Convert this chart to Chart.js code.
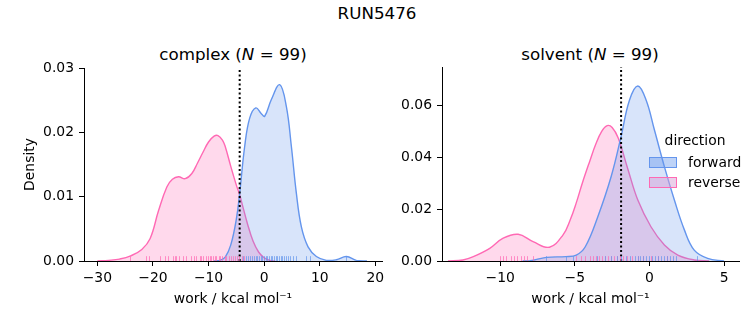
<!DOCTYPE html>
<html>
<head>
<meta charset="utf-8">
<script src="https://cdn.jsdelivr.net/npm/chart.js@4/dist/chart.umd.min.js"></script>
<style>
  body { margin: 0; background: #fff; font-family: "DejaVu Sans", sans-serif; }
  #wrap { position: relative; width: 753px; height: 325px; overflow: hidden; }
  canvas { position: absolute; top: 0; }
  .t { position: absolute; white-space: nowrap; line-height: 1; color: #000; }
  .c { transform: translateX(-50%); }
  .patch { position: absolute; box-sizing: border-box; width: 28px; height: 11px; }
</style>
</head>
<body>
<div id="wrap">
  <div class="t c" id="sup" style="left:377px; top:5px; font-size:16.7px"></div>
  <div class="t c" id="title1" style="left:233px; top:46px; font-size:16.7px"></div>
  <div class="t c" id="title2" style="left:590px; top:46px; font-size:16.7px"></div>
  <canvas id="c1" width="390" height="325" style="left:0"></canvas>
  <canvas id="c2" width="363" height="325" style="left:390px"></canvas>
  <!-- legend -->
  <div class="t c" id="legTitle" style="left:695px; top:134px; font-size:13.9px"></div>
  <div class="patch" id="patch0" style="left:649px; top:157px"></div>
  <div class="t" id="leg0" style="left:688px; top:155.5px; font-size:13.9px"></div>
  <div class="patch" id="patch1" style="left:649px; top:177px"></div>
  <div class="t" id="leg1" style="left:688px; top:176px; font-size:13.9px"></div>
</div>
<script>
// ---- data ----
const runName = "RUN5476";
const panelNames = ["complex", "solvent"];
const panelN = [99, 99];
const directions = ["forward", "reverse"];

// complex leg, KDE curves (x = work, y = density)
const complexForwardX = [-9, -8, -7, -6, -5, -4.4, -3.5, -2.6, -1.5, -0.5, 0.1, 1.3, 2.8, 4, 4.9, 5.8, 6.7, 7.9, 9.4, 11.2, 13, 14.8, 16.6, 18.5];
const complexForwardY = [0, 0.0001, 0.0006, 0.0025, 0.0065, 0.0105, 0.0178, 0.0222, 0.0238, 0.0229, 0.0225, 0.0251, 0.0274, 0.0240, 0.0178, 0.0105, 0.0053, 0.0022, 0.0007, 0.0001, 0.0002, 0.0007, 0.0001, 0];
const complexReverseX = [-30, -28, -26, -24, -22, -20.5, -19, -17.5, -16.5, -15.4, -14.2, -13, -12, -11, -10, -9, -8.3, -7.5, -7, -6, -5, -4.4, -4, -3, -2, -1, 0, 1, 2];
const complexReverseY = [0, 0.0001, 0.0003, 0.0008, 0.0018, 0.0035, 0.0078, 0.0115, 0.0127, 0.0131, 0.0128, 0.0136, 0.0152, 0.0169, 0.0185, 0.0194, 0.0195, 0.0188, 0.0178, 0.0147, 0.0118, 0.0103, 0.0090, 0.0058, 0.0031, 0.0014, 0.0005, 0.0001, 0];

// solvent leg
const solventForwardX = [-8.5, -8.0, -6.9, -5.6, -4.9, -4.3, -3.46, -2.57, -1.9, -1.34, -0.78, -0.22, 0.33, 1.0, 1.67, 2.34, 3.0, 3.9, 5.0];
const solventForwardY = [0, 0.0001, 0.0014, 0.0017, 0.0023, 0.0055, 0.0171, 0.0325, 0.0480, 0.0620, 0.0675, 0.0620, 0.0506, 0.0364, 0.0235, 0.0120, 0.0042, 0.0010, 0];
const solventReverseX = [-13.5, -12.5, -11.8, -10.7, -9.8, -8.8, -7.8, -6.7, -5.8, -5.3, -4.9, -4.5, -4.0, -3.6, -3.2, -2.83, -2.5, -2.1, -1.45, -0.78, 0.1, 1.0, 1.9, 3.0, 4.0];
const solventReverseY = [0, 0.0004, 0.0017, 0.0049, 0.0088, 0.0103, 0.0075, 0.0053, 0.0100, 0.0160, 0.0225, 0.0300, 0.0385, 0.0450, 0.0500, 0.0522, 0.0515, 0.0475, 0.0355, 0.0235, 0.0132, 0.0062, 0.0023, 0.0004, 0];

// rug marks (individual work values)
const complexForwardRug = [-3.8, -3.3, -2.9, -2.5, -2.1, -1.8, -1.5, -1.2, -0.9, -0.6, -0.3, 0.0, 0.3, 0.6, 0.9, 1.2, 1.5, 1.8, 2.1, 2.4, 2.7, 3.0, 3.3, 3.6, 3.9, 4.3, 4.7, 5.2, 5.8, 7.6, 8.2, 14.8];
const complexReverseRug = [-24.2, -21.3, -20.7, -18.8, -17.9, -17.3, -16.4, -16.1, -15.8, -15.3, -14.6, -14.0, -13.1, -12.6, -12.2, -11.6, -11.3, -11.0, -10.4, -10.1, -9.8, -9.5, -9.2, -8.9, -8.6, -8.2, -7.9, -7.5, -7.1, -6.8, -6.4, -6.0, -5.6, -5.2, -4.8, -4.5, -4.0, -3.6];
const solventForwardRug = [-6.9, -5.6, -5.1, -3.5, -3.0, -2.6, -2.2, -1.9, -1.6, -1.3, -1.0, -0.8, -0.6, -0.4, -0.2, 0.0, 0.2, 0.4, 0.6, 0.8, 1.0, 1.2, 1.4, 1.6, 1.8, 3.2];
const solventReverseRug = [-10.0, -9.8, -9.6, -9.3, -9.1, -8.9, -8.6, -8.4, -8.2, -7.8, -4.9, -4.6, -4.3, -4.0, -3.8, -3.6, -3.4, -3.2, -3.0, -2.8, -2.6, -2.4, -2.2, -2.0, -1.8, -1.5, -1.2, -0.8, -0.4, 0.1, 0.6, 1.2];

// dotted vertical line (free energy estimate)
const complexMark = -4.4;
const solventMark = -1.9;

// axis ranges and ticks
const complexXRange = [-32.4, 21.2];
const complexXTicks = [-30, -20, -10, 0, 10, 20];
const complexYRange = [0, 0.03];
const complexYTicks = [0, 0.01, 0.02, 0.03];
const solventXRange = [-13.9, 6.0];
const solventXTicks = [-10, -5, 0, 5];
const solventYRange = [0, 0.0748];
const solventYTicks = [0, 0.02, 0.04, 0.06];

const xLabel = "work / kcal mol\u207B\u00B9";
const yLabel = "Density";

// ---- styles ----
const FONT = "DejaVu Sans";
const blue = "rgb(100,149,237)";
const pink = "rgb(255,105,180)";
const blueFill = "rgba(100,149,237,0.25)";
const pinkFill = "rgba(255,105,180,0.25)";

// texts
document.getElementById("sup").textContent = runName;
document.getElementById("title1").innerHTML = panelNames[0] + " (<i>N</i> = " + panelN[0] + ")";
document.getElementById("title2").innerHTML = panelNames[1] + " (<i>N</i> = " + panelN[1] + ")";
document.getElementById("legTitle").textContent = "direction";
document.getElementById("leg0").textContent = directions[0];
document.getElementById("leg1").textContent = directions[1];
const p0 = document.getElementById("patch0");
p0.style.background = "rgba(100,149,237,0.42)";
p0.style.border = "1px solid " + blue;
const p1 = document.getElementById("patch1");
p1.style.background = "rgba(214,160,214,0.5)";
p1.style.border = "1px solid " + pink;

// rug plot, drawn through the x scale
const rugPlugin = {
  id: "rug",
  afterDatasetsDraw(chart, args, opts) {
    const ctx = chart.ctx;
    const xs = chart.scales.x;
    const area = chart.chartArea;
    const h = (area.bottom - area.top) * 0.025;
    (opts.sets || []).forEach(set => {
      ctx.save();
      ctx.strokeStyle = set.color;
      ctx.lineWidth = 1;
      set.values.forEach(v => {
        const x = Math.round(xs.getPixelForValue(v)) + 0.5;
        ctx.beginPath();
        ctx.moveTo(x, area.bottom);
        ctx.lineTo(x, area.bottom - h);
        ctx.stroke();
      });
      ctx.restore();
    });
  }
};

function pts(xs, ys) {
  return xs.map((x, i) => ({ x: x, y: ys[i] }));
}

function minus(v) {
  return String(v).replace("-", "\u2212");
}

function makePanel(id, p) {
  const tickFont = { family: FONT, size: 13.9 };
  return new Chart(document.getElementById(id), {
    type: "line",
    data: {
      datasets: [
        {
          // dotted marker
          data: [{ x: p.mark, y: p.yRange[0] }, { x: p.mark, y: p.yRange[1] }],
          borderColor: "#000", borderWidth: 2, borderDash: [2, 2.5],
          pointRadius: 0, fill: false, tension: 0
        },
        {
          label: directions[0],
          data: pts(p.fx, p.fy),
          borderColor: blue, backgroundColor: blueFill, borderWidth: 1.4,
          pointRadius: 0, fill: "origin", tension: 0.4
        },
        {
          label: directions[1],
          data: pts(p.rx, p.ry),
          borderColor: pink, backgroundColor: pinkFill, borderWidth: 1.4,
          pointRadius: 0, fill: "origin", tension: 0.4
        }
      ]
    },
    options: {
      responsive: false,
      animation: false,
      devicePixelRatio: 1,
      layout: { padding: p.padding },
      plugins: {
        legend: { display: false },
        tooltip: { enabled: false },
        rug: { sets: [
          { values: p.rugR, color: "rgba(255,105,180,0.7)" },
          { values: p.rugF, color: "rgba(100,149,237,0.7)" }
        ] }
      },
      scales: {
        x: {
          type: "linear",
          min: p.xRange[0], max: p.xRange[1],
          afterBuildTicks: s => { s.ticks = p.xTicks.map(v => ({ value: v })); },
          afterFit: s => { s.height = 64; },
          ticks: { color: "#000", font: tickFont, padding: 4, maxRotation: 0, callback: v => minus(v) },
          grid: { display: true, drawOnChartArea: false, drawTicks: true, tickLength: 5, color: "#000" },
          border: { display: true, color: "#000", width: 1 },
          title: { display: true, text: xLabel, color: "#000", font: tickFont, padding: { top: 0, bottom: 17 } }
        },
        y: {
          type: "linear",
          min: p.yRange[0], max: p.yRange[1],
          afterBuildTicks: s => { s.ticks = p.yTicks.map(v => ({ value: v })); },
          afterFit: s => { s.width = p.yWidth; },
          ticks: { color: "#000", font: tickFont, padding: 5, callback: v => v.toFixed(2) },
          grid: { display: true, drawOnChartArea: false, drawTicks: true, tickLength: 5, color: "#000" },
          border: { display: true, color: "#000", width: 1 },
          title: { display: p.showY, text: yLabel, color: "#000", font: tickFont, padding: { top: 22, bottom: 0 } }
        }
      }
    },
    plugins: [rugPlugin]
  });
}

makePanel("c1", {
  fx: complexForwardX, fy: complexForwardY, rx: complexReverseX, ry: complexReverseY,
  rugF: complexForwardRug, rugR: complexReverseRug, mark: complexMark,
  xRange: complexXRange, xTicks: complexXTicks, yRange: complexYRange, yTicks: complexYTicks,
  padding: { left: 0, top: 68, right: 8, bottom: 0 }, yWidth: 84, showY: true
});

makePanel("c2", {
  fx: solventForwardX, fy: solventForwardY, rx: solventReverseX, ry: solventReverseY,
  rugF: solventForwardRug, rugR: solventReverseRug, mark: solventMark,
  xRange: solventXRange, xTicks: solventXTicks, yRange: solventYRange, yTicks: solventYTicks,
  padding: { left: 0, top: 67, right: 14, bottom: 0 }, yWidth: 52, showY: false
});
</script>
</body>
</html>
